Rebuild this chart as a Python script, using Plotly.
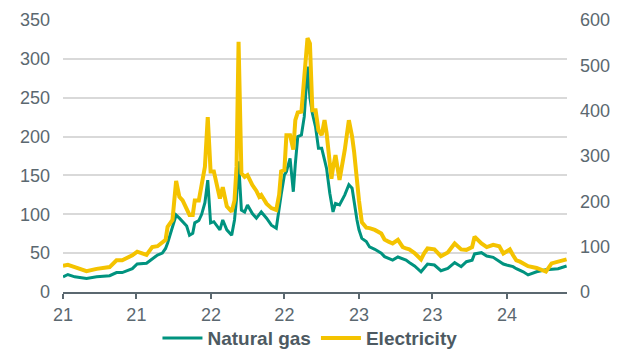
import plotly.graph_objects as go

dates = [
    "2021-01-01", "2021-01-13", "2021-01-30", "2021-02-28", "2021-03-25", "2021-04-26",
    "2021-05-13", "2021-05-27", "2021-06-21", "2021-07-03", "2021-07-26", "2021-08-09",
    "2021-08-22", "2021-09-03", "2021-09-11", "2021-09-16", "2021-09-28", "2021-10-07",
    "2021-10-15", "2021-10-23", "2021-11-02", "2021-11-09", "2021-11-17", "2021-11-22",
    "2021-12-02", "2021-12-09", "2021-12-17", "2021-12-24", "2021-12-31", "2022-01-08",
    "2022-01-23", "2022-01-30", "2022-02-09", "2022-02-21", "2022-02-28", "2022-03-05",
    "2022-03-10", "2022-03-17", "2022-03-25", "2022-04-01", "2022-04-13", "2022-04-23",
    "2022-04-30", "2022-05-05", "2022-05-18", "2022-05-30", "2022-06-11", "2022-06-18",
    "2022-06-23", "2022-07-01", "2022-07-06", "2022-07-15", "2022-07-23", "2022-07-28",
    "2022-08-03", "2022-08-12", "2022-08-19", "2022-08-27", "2022-09-02", "2022-09-08",
    "2022-09-16", "2022-09-23", "2022-10-01", "2022-10-08", "2022-10-13", "2022-10-21",
    "2022-10-25", "2022-10-29", "2022-11-04", "2022-11-14", "2022-11-27", "2022-12-07",
    "2022-12-15", "2022-12-20", "2022-12-27", "2023-01-01", "2023-01-08", "2023-01-19",
    "2023-01-27", "2023-02-09", "2023-02-25", "2023-03-05", "2023-03-15", "2023-03-25",
    "2023-04-07", "2023-04-19", "2023-04-27", "2023-05-05", "2023-05-18", "2023-06-03",
    "2023-06-11", "2023-06-19", "2023-07-06", "2023-07-22", "2023-08-08", "2023-08-25",
    "2023-09-10", "2023-09-23", "2023-10-07", "2023-10-13", "2023-10-30", "2023-11-12",
    "2023-11-28", "2023-12-13", "2023-12-23", "2023-12-31", "2024-01-08", "2024-01-16",
    "2024-01-24", "2024-02-02", "2024-02-10", "2024-02-22", "2024-03-14", "2024-04-06",
    "2024-04-20", "2024-05-06", "2024-05-27",
]

natural_gas = [
    19.5, 22.5, 19.5, 17.4, 19.5, 21,
    25, 25, 30, 36, 37, 43,
    47.6, 50, 56, 63, 84, 99,
    95, 90, 85, 73, 75.5, 89,
    92, 100, 115, 144, 89, 90.5,
    80, 92.7, 80, 73, 92.7, 120,
    168, 105.5, 103, 112, 101, 95,
    100, 103, 95, 86, 82, 110,
    125, 150.6, 155, 172, 129, 165,
    200, 202, 225.6, 290, 250, 230,
    212, 185, 185, 170, 159, 127,
    115, 103, 114, 112, 125, 138,
    133.5, 115, 92.7, 80, 69, 65,
    58, 55, 50, 45.5, 43, 41,
    45, 43, 41, 38, 33.5, 26,
    31, 36, 34.7, 27.4, 30.5, 37.7,
    32.6, 39, 41, 49, 50.6, 46.3,
    44.6, 39, 36, 34.7, 33.5, 32.6,
    30, 28.3, 26, 22, 26, 28.5,
    29, 30, 33.4,
]

electricity = [
    58, 60, 55, 46, 51, 55,
    70, 70, 81, 89, 82, 99,
    101, 108, 115, 144, 159, 245,
    210, 202, 180, 170, 170, 202,
    202, 240, 276, 386, 266, 266,
    206, 231, 189, 177, 202, 276,
    552, 262, 254, 258, 236, 223,
    210, 214, 195, 185, 181, 214,
    266, 269, 346, 346, 314, 379,
    396, 398, 482, 560, 548, 401,
    401, 357, 346, 379, 351, 274,
    250, 274, 302, 247, 314, 379,
    343, 309, 240, 202, 154, 142,
    141, 137, 129, 116, 111, 107,
    115, 99, 96, 94, 86, 72,
    86, 96, 94, 79, 87, 107,
    94, 93, 99, 122, 107, 99,
    104, 101, 85, 89, 94, 81,
    70, 67, 63, 57, 53, 45,
    63, 67, 72,
]

left_ticks = [0, 50, 100, 150, 200, 250, 300, 350]
right_ticks = [0, 100, 200, 300, 400, 500, 600]

TEAL = "#00937f"
YELLOW = "#f4c300"
TICK_COLOR = "#5b6870"
FONT = "Liberation Sans, Arial, sans-serif"

fig = go.Figure()
fig.add_trace(go.Scatter(
    x=dates, y=electricity, name="Electricity", mode="lines",
    line=dict(color=YELLOW, width=4), yaxis="y2", legendrank=2,
))
fig.add_trace(go.Scatter(
    x=dates, y=natural_gas, name="Natural gas", mode="lines",
    line=dict(color=TEAL, width=3), yaxis="y", legendrank=1,
))

fig.update_layout(
    width=627, height=349,
    margin=dict(l=63, r=60, t=20, b=57, autoexpand=False),
    paper_bgcolor="white", plot_bgcolor="white",
    font=dict(family=FONT, size=18, color=TICK_COLOR),
    showlegend=True,
    legend=dict(
        orientation="h", x=0.49, xanchor="center", y=-0.1, yanchor="top",
        font=dict(family=FONT, size=19, color="#4d5a62", weight="bold"),
        bgcolor="rgba(0,0,0,0)", itemwidth=40, tracegroupgap=0,
    ),
    xaxis=dict(
        type="date", range=["2021-01-01", "2024-05-28"],
        tick0="2021-01-01", dtick="M6", tickformat="%y",
        showgrid=False, zeroline=False,
        showline=True, linecolor=TICK_COLOR, linewidth=2,
        ticks="outside", ticklen=5, tickwidth=2, tickcolor=TICK_COLOR,
        tickfont=dict(family=FONT, size=18, color=TICK_COLOR),
        automargin=False,
    ),
    yaxis=dict(
        range=[0, 350], tickvals=left_ticks,
        showgrid=True, gridcolor="#d9d9d9", gridwidth=1.5,
        zeroline=False, showline=False, ticks="",
        ticklabelstandoff=12, automargin=False,
        tickfont=dict(family=FONT, size=18, color=TICK_COLOR),
    ),
    yaxis2=dict(
        range=[0, 600], tickvals=right_ticks, overlaying="y", side="right",
        showgrid=False, zeroline=False, showline=False, ticks="",
        ticklabelstandoff=12, automargin=False,
        tickfont=dict(family=FONT, size=18, color=TICK_COLOR),
    ),
)

fig.write_html(
    "out.html",
    config={"displayModeBar": False},
    post_script="document.body.style.margin='0';document.body.style.overflow='hidden';",
)
